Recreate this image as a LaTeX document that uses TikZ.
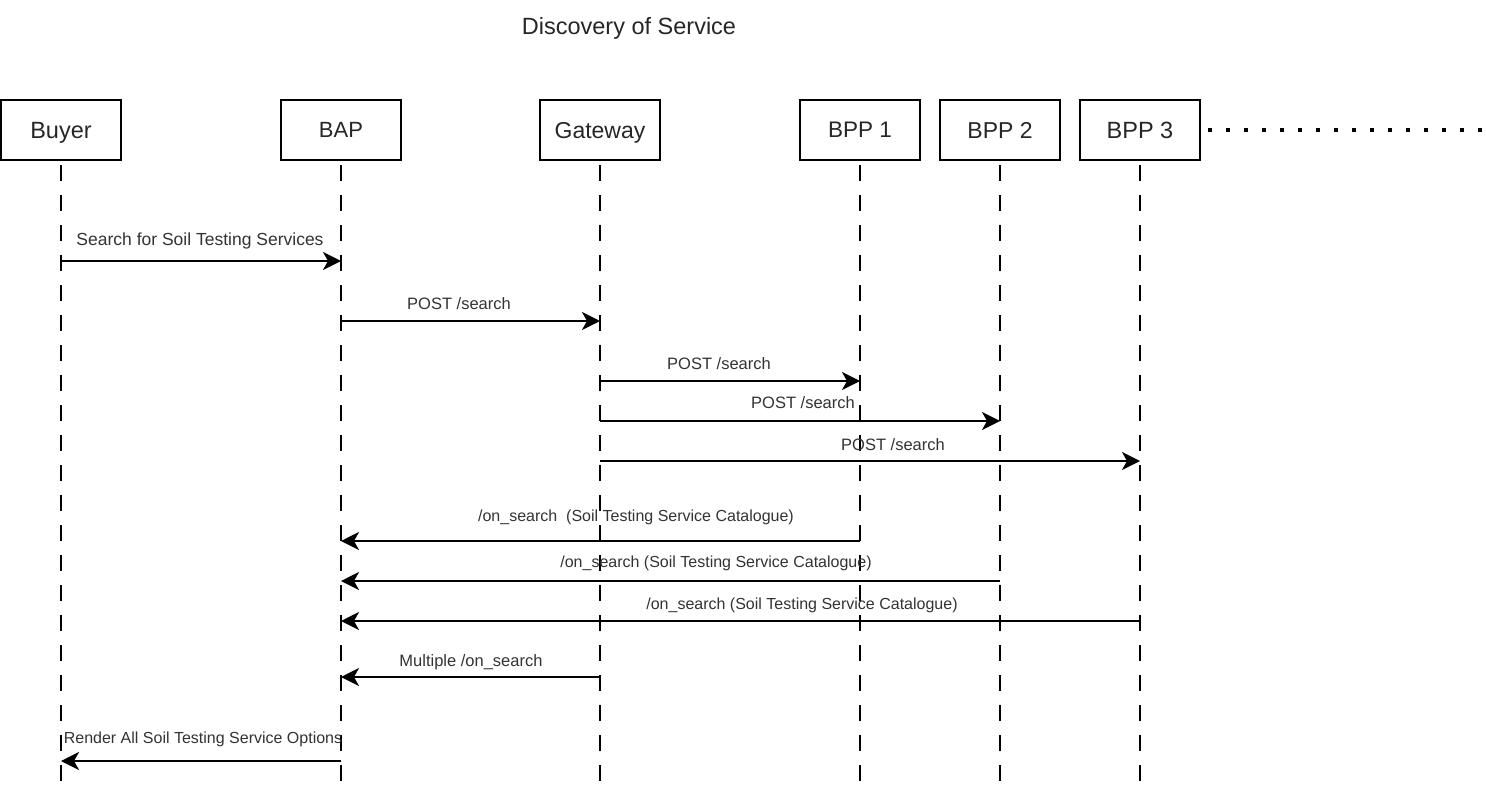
\documentclass[tikz,border=0pt]{standalone}
\usepackage{fontspec}
\setmainfont{Liberation Sans}
\usetikzlibrary{arrows.meta}
\tikzset{
  actor/.style={draw, line width=1.8pt, minimum width=120pt, minimum height=60pt, inner sep=0pt, text height=16.5pt, text depth=0pt, text=black!85, font=\fontsize{23}{27}\selectfont},
  life/.style={line width=1.8pt, dash pattern=on 16pt off 14pt},
  msg/.style={line width=2pt, -{Stealth[length=18pt,width=18pt,inset=5pt]}},
  lbl/.style={anchor=base, inner sep=0pt, text=black!80, font=\fontsize{16.5}{19}\selectfont},
  lblsmall/.style={lbl, font=\fontsize{16}{19}\selectfont},
}
\begin{document}
\begin{tikzpicture}[x=1pt, y=-1pt]
    \useasboundingbox (0,0) rectangle (1486,792);
    \node[anchor=base, text=black!85, font=\fontsize{23.5}{28}\selectfont] (title) at (629,35) {Discovery of Service};
    % participants
    \node[actor, font=\fontsize{23.5}{28}\selectfont] (buyer) at (61,130) {Buyer};
    \node[actor, text height=15.5pt, font=\fontsize{22}{26}\selectfont] (bap) at (341,130) {BAP};
    \node[actor] (gw) at (600,130) {Gateway};
    \node[actor, text height=15.5pt, font=\fontsize{22.5}{26}\selectfont] (bpp1) at (860,130) {BPP 1};
    \node[actor] (bpp2) at (1000,130) {BPP 2};
    \node[actor, font=\fontsize{23.5}{28}\selectfont] (bpp3) at (1140,130) {BPP 3};
	\draw[line width=3.8pt, dash pattern=on 3.8pt off 14.2pt] ([xshift=7pt]bpp3.east) -- (1486,130);
    % lifelines
    \draw[life] (buyer |- 0,165) -- (buyer |- 0,792);
    \draw[life] (bap |- 0,165) -- (bap |- 0,792);
    \draw[life] (gw |- 0,165) -- (gw |- 0,792);
    \draw[life] (bpp1 |- 0,165) -- (bpp1 |- 0,792);
    \draw[life] (bpp2 |- 0,165) -- (bpp2 |- 0,792);
    \draw[life] (bpp3 |- 0,165) -- (bpp3 |- 0,792);
    % messages
	\draw[msg] (buyer |- 0,261) -- (bap |- 0,261);
	\node[lbl, font=\fontsize{17.5}{20}\selectfont] (m1) at (200,245) {Search for Soil Testing Services};
	\draw[msg] (bap |- 0,321) -- (gw |- 0,321);
	\node[lbl] (m2) at (459,309) {POST /search};
	\draw[msg] (gw |- 0,381) -- (bpp1 |- 0,381);
	\node[lbl] (m3) at (719,369) {POST /search};
	\draw[msg] (gw |- 0,421) -- (bpp2 |- 0,421);
	\node[lbl] (m4) at (803,408) {POST /search};
	\draw[msg] (gw |- 0,461) -- (bpp3 |- 0,461);
	\node[lbl] (m5) at (893,450) {POST /search};
	\draw[msg] (bpp1 |- 0,541) -- (bap |- 0,541);
	\node[lblsmall] (m6) at (636,521) {/on\_search\ \ (Soil Testing Service Catalogue)};
	\draw[msg] (bpp2 |- 0,581) -- (bap |- 0,581);
	\node[lblsmall] (m7) at (716,567) {/on\_search (Soil Testing Service Catalogue)};
	\draw[msg] (bpp3 |- 0,621) -- (bap |- 0,621);
	\node[lblsmall] (m8) at (802,609) {/on\_search (Soil Testing Service Catalogue)};
	\draw[msg] (gw |- 0,677) -- (bap |- 0,677);
	\node[lbl] (m9) at (471,666) {Multiple /on\_search};
	\draw[msg] (bap |- 0,761) -- (buyer |- 0,761);
	\node[lblsmall] (m10) at (203,743) {Render All Soil Testing Service Options};
\end{tikzpicture}
\end{document}
